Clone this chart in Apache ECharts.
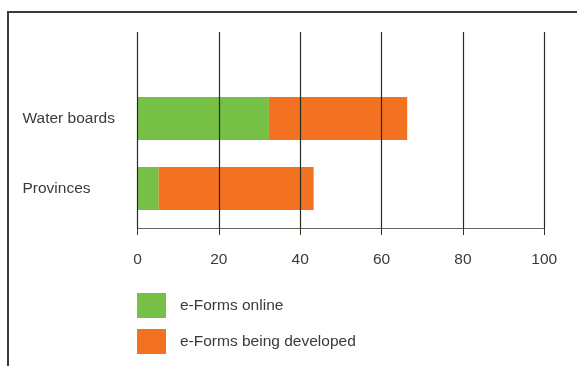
<!DOCTYPE html>
<html>
<head>
<meta charset="utf-8">
<script src="https://cdn.jsdelivr.net/npm/echarts@6/dist/echarts.min.js"></script>
<style>html,body{margin:0;padding:0;background:#fff}#c{width:577px;height:366px}</style>
</head>
<body>
<div id="c"></div>
<script>
var categories = ['Water boards', 'Provinces'];
var seriesNames = ['e-Forms online', 'e-Forms being developed'];
var onlineValues = [32.3, 5.2];
var developingValues = [34.0, 38.1];
var axisMin = 0, axisMax = 100, axisInterval = 20;

var FONT = 'Liberation Sans';
var TXT = '#3a3a3a';
var chart = echarts.init(document.getElementById('c'), null, {renderer: 'canvas'});
chart.setOption({
  animation: false,
  backgroundColor: '#fff',
  textStyle: {fontFamily: FONT},
  graphic: [{
    type: 'polyline',
    shape: {points: [[8, 366], [8, 12], [577, 12]]},
    style: {stroke: '#3a3a3a', lineWidth: 2, fill: null}
  }],
  legend: {
    orient: 'vertical', left: 137, top: 293, padding: 0,
    itemWidth: 29, itemHeight: 25, itemGap: 11,
    icon: 'rect',
    data: seriesNames,
    textStyle: {fontFamily: FONT, fontSize: 15.5, color: TXT, padding: [0, 0, 0, 9]}
  },
  grid: [
    {left: 137.5, right: 32.7, top: 32, bottom: 138, containLabel: false},
    {left: 137.5, right: 32.7, top: 83.5, bottom: 142.5, containLabel: false}
  ],
  xAxis: [
    {gridIndex: 0, type: 'value', min: axisMin, max: axisMax, interval: axisInterval, z: 10,
     axisLine: {show: true, lineStyle: {color: '#5f6a5a', width: 1}},
     axisTick: {show: true, inside: false, length: 7, lineStyle: {color: '#2b3a2b', width: 1}},
     axisLabel: {show: true, margin: 24, fontFamily: FONT, fontSize: 15.5, color: TXT},
     splitLine: {show: true, lineStyle: {color: '#23301f', width: 1.2}}},
    {gridIndex: 1, type: 'value', min: axisMin, max: axisMax, show: false}
  ],
  yAxis: [
    {gridIndex: 0, type: 'value', show: false},
    {gridIndex: 1, type: 'category', inverse: true, data: categories,
     axisLine: {show: false}, axisTick: {show: false}, splitLine: {show: false},
     axisLabel: {show: true, align: 'left', margin: 115, fontFamily: FONT, fontSize: 15.5, color: TXT}}
  ],
  series: [
    {name: seriesNames[0], type: 'bar', stack: 'a', xAxisIndex: 1, yAxisIndex: 1,
     barWidth: 43, data: onlineValues, itemStyle: {color: '#77c046'}, z: 1},
    {name: seriesNames[1], type: 'bar', stack: 'a', xAxisIndex: 1, yAxisIndex: 1,
     barWidth: 43, data: developingValues, itemStyle: {color: '#f37221'}, z: 1}
  ]
});
</script>
</body>
</html>
